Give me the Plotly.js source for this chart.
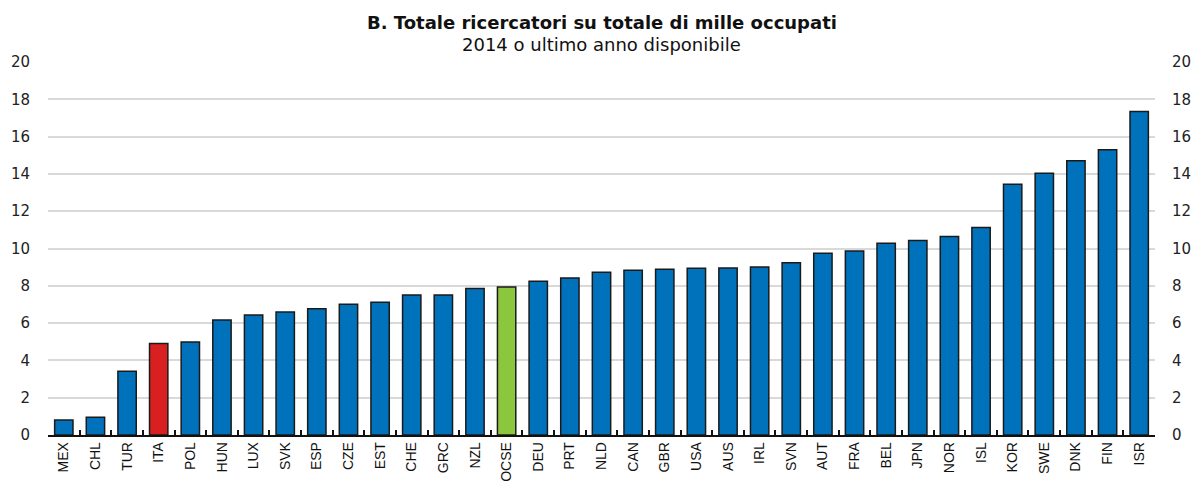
<!DOCTYPE html>
<html>
<head>
<meta charset="utf-8">
<script src="https://cdn.plot.ly/plotly-3.0.1.min.js"></script>
<style>html,body{margin:0;padding:0;background:#fff}#chart{width:1193px;height:481px}</style>
</head>
<body>
<div id="chart"></div>
<script>
const countries = ["MEX","CHL","TUR","ITA","POL","HUN","LUX","SVK","ESP","CZE","EST","CHE","GRC","NZL","OCSE","DEU","PRT","NLD","CAN","GBR","USA","AUS","IRL","SVN","AUT","FRA","BEL","JPN","NOR","ISL","KOR","SWE","DNK","FIN","ISR"];
const researchers = [0.8,0.95,3.42,4.9,4.98,6.16,6.44,6.6,6.77,7.01,7.12,7.51,7.51,7.85,7.94,8.25,8.42,8.73,8.84,8.89,8.94,8.96,9.01,9.23,9.75,9.86,10.28,10.43,10.64,11.13,13.45,14.04,14.7,15.29,17.35];
const yTicks = [0,2,4,6,8,10,12,14,16,18,20];
const titleText = "B. Totale ricercatori su totale di mille occupati";
const subtitleText = "2014 o ultimo anno disponibile";

const colors = countries.map(c => c === "ITA" ? "#d7201f" : (c === "OCSE" ? "#8cc63f" : "#0072bb"));

const traces = [
  {
    type: "bar",
    x: countries,
    y: researchers,
    marker: {color: colors, line: {color: "#1a1a1a", width: 1.5}},
    hoverinfo: "x+y"
  },
  {
    type: "bar",
    x: countries,
    y: researchers.map(() => 0),
    yaxis: "y2",
    hoverinfo: "skip",
    showlegend: false
  }
];

const tickFont = {family: "DejaVu Sans, sans-serif", size: 15, color: "#222"};

const layout = {
  width: 1193,
  height: 481,
  margin: {l: 48, r: 38, t: 62, b: 46},
  paper_bgcolor: "#fff",
  plot_bgcolor: "#fff",
  showlegend: false,
  bargap: 0.42,
  barmode: "overlay",
  annotations: [
    {text: "<b>" + titleText + "</b>", xref: "paper", yref: "paper", x: 0.5, y: 1, yshift: 40, xanchor: "center", yanchor: "middle", showarrow: false,
     font: {family: "DejaVu Sans, sans-serif", size: 18, color: "#111"}},
    {text: subtitleText, xref: "paper", yref: "paper", x: 0.5, y: 1, yshift: 18, xanchor: "center", yanchor: "middle", showarrow: false,
     font: {family: "DejaVu Sans, sans-serif", size: 18, color: "#111"}}
  ],
  xaxis: {
    type: "category",
    range: [-0.5, countries.length - 0.5],
    tickangle: -90,
    tickfont: {family: "Liberation Sans, Arial, sans-serif", size: 14, color: "#111"},
    showline: true,
    linecolor: "#111",
    linewidth: 1.5,
    ticks: "inside",
    tickson: "boundaries",
    ticklen: 5,
    tickwidth: 2,
    tickcolor: "#111",
    showgrid: false,
    zeroline: false,
    fixedrange: true
  },
  yaxis: {
    range: [0, 20],
    tickvals: yTicks,
    ticktext: yTicks.map(String),
    tickfont: tickFont,
    showgrid: true,
    gridcolor: "#d9d9d9",
    gridwidth: 2,
    zeroline: false,
    showline: false,
    ticks: "",
    ticklabelstandoff: 17,
    fixedrange: true
  },
  yaxis2: {
    range: [0, 20],
    overlaying: "y",
    side: "right",
    tickvals: yTicks,
    ticktext: yTicks.map(String),
    tickfont: tickFont,
    showgrid: false,
    zeroline: false,
    showline: false,
    ticks: "",
    ticklabelstandoff: 16,
    fixedrange: true
  }
};

Plotly.newPlot("chart", traces, layout, {displayModeBar: false, staticPlot: true});
</script>
</body>
</html>
